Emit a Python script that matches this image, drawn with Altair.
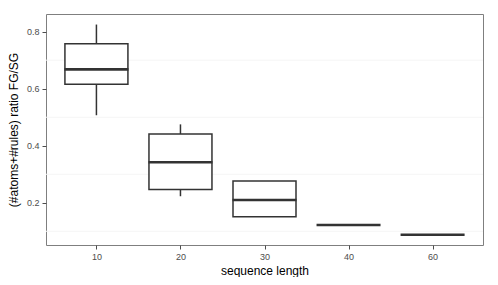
import altair as alt
import pandas as pd

seq_len = ["10", "20", "30", "40", "60"]
lower = [0.507, 0.223, 0.151, 0.122, 0.088]
q1 = [0.616, 0.247, 0.151, 0.122, 0.088]
median = [0.668, 0.342, 0.210, 0.122, 0.088]
q3 = [0.758, 0.441, 0.276, 0.122, 0.088]
upper = [0.825, 0.475, 0.276, 0.122, 0.088]
minor_grid = [0.1, 0.3, 0.5, 0.7]

df = pd.DataFrame({"len": seq_len, "lower": lower, "q1": q1, "median": median,
                   "q3": q3, "upper": upper})
grid_df = pd.DataFrame({"g": minor_grid})

W, H = 437, 231
LINE = "#333333"

xs = alt.X("len:O", sort=seq_len,
           scale=alt.Scale(type="point", padding=0.6),
           axis=alt.Axis(title="sequence length", labelAngle=0, labelColor="#4d4d4d",
                         labelFontSize=9, tickColor="#4d4d4d", tickSize=4,
                         domain=False, titleFontSize=12, titleFontWeight="normal",
                         titleColor="black", titlePadding=4, labelPadding=3))
yscale = alt.Scale(domain=[0.052, 0.862], nice=False, zero=False)
yaxis = alt.Axis(title="(#atoms+#rules) ratio FG/SG", values=[0.2, 0.4, 0.6, 0.8],
                 format=".1f", labelColor="#4d4d4d", labelFontSize=9,
                 tickColor="#4d4d4d", tickSize=4, domain=False, grid=False,
                 titleFontSize=12, titleFontWeight="normal", titleColor="black",
                 titlePadding=6, labelPadding=3)

grid = alt.Chart(grid_df).mark_rule(color="#f5f5f5", strokeWidth=1).encode(
    y=alt.Y("g:Q", scale=yscale, axis=yaxis))
whisk_hi = alt.Chart(df).mark_rule(color=LINE, strokeWidth=1.5).encode(
    x=xs, y=alt.Y("q3:Q", scale=yscale), y2="upper:Q")
whisk_lo = alt.Chart(df).mark_rule(color=LINE, strokeWidth=1.5).encode(
    x=xs, y=alt.Y("lower:Q", scale=yscale), y2="q1:Q")
box = alt.Chart(df).mark_bar(size=63, fill="white", stroke=LINE, strokeWidth=1.5).encode(
    x=xs, y=alt.Y("q1:Q", scale=yscale), y2="q3:Q")
med = alt.Chart(df).mark_tick(size=64, thickness=2.6, color=LINE, opacity=1).encode(
    x=xs, y=alt.Y("median:Q", scale=yscale))

chart = alt.layer(grid, whisk_hi, whisk_lo, box, med).properties(
    width=W, height=H,
    autosize=alt.AutoSizeParams(type="none"),
    padding={"left": 38, "top": 6, "right": 7, "bottom": 32},
).configure_view(stroke="#7f7f7f", strokeWidth=1).configure_axis(
    labelFont="Liberation Sans", titleFont="Liberation Sans")

chart.save("out.html", embed_options={"renderer": "svg", "actions": False})
